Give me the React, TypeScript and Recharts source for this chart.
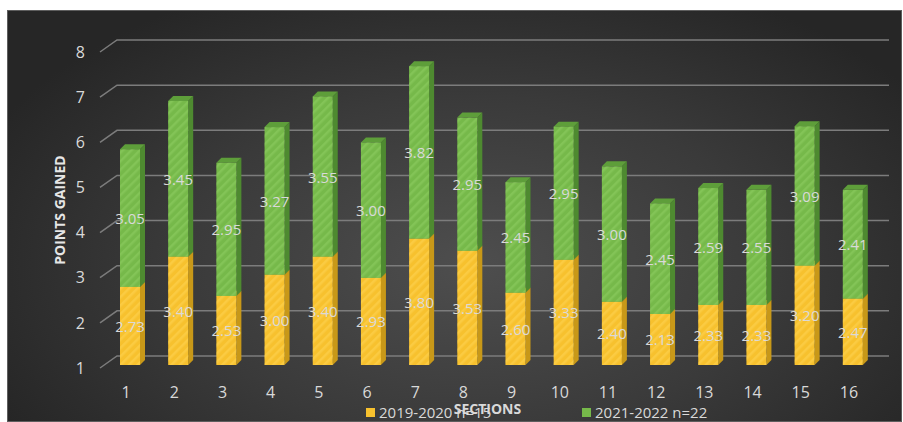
import { BarChart, Bar, XAxis, YAxis, CartesianGrid, Legend } from "recharts"

const sections = ["1", "2", "3", "4", "5", "6", "7", "8", "9", "10", "11", "12", "13", "14", "15", "16"]
const season2019 = [2.73, 3.4, 2.53, 3.0, 3.4, 2.93, 3.8, 3.53, 2.6, 3.33, 2.4, 2.13, 2.33, 2.33, 3.2, 2.47]
const season2021 = [3.05, 3.45, 2.95, 3.27, 3.55, 3.0, 3.82, 2.95, 2.45, 2.95, 3.0, 2.45, 2.59, 2.55, 3.09, 2.41]
const yTicks = [1, 2, 3, 4, 5, 6, 7, 8]
const seriesNames = ["2019-2020 n=15", "2021-2022 n=22"]

const data = sections.map((s, i) => ({ section: s, a: season2019[i], b: season2021[i] }))

const W = 903
const H = 422
const TOP = 52
const XAXIS_H = 54
const PLOT_BOTTOM = H - XAXIS_H
const FONT = "'Open Sans', sans-serif"
const TEXT = "#d9d9d9"

// fake 3D: front face shifted a bit, plus side and top faces
const DX = 4
const DY = -3
const DEPTH = 5

const yellow = { front: "#f7c12e", stripe: "url(#stripeY)", side: "#c89818", top: "#dcaa22" }
const green = { front: "#76b94a", stripe: "url(#stripeG)", side: "#4e8a30", top: "#5e9e3a" }

function bar3D(c: typeof yellow, key: "a" | "b") {
  return (props: any) => {
    const { x, y, width, height, payload } = props
    if (x == null || width == null) return <g />
    const top = y + DY
    const bottom = Math.min(y + height, PLOT_BOTTOM) + DY
    const h = Math.max(bottom - top, 0)
    const fx = x + DX
    const r = fx + width
    return (
      <g>
        <polygon
          points={`${r},${top} ${r + DEPTH},${top - DEPTH} ${r + DEPTH},${bottom - DEPTH} ${r},${bottom}`}
          fill={c.side}
        />
        <polygon
          points={`${fx},${top} ${fx + DEPTH},${top - DEPTH} ${r + DEPTH},${top - DEPTH} ${r},${top}`}
          fill={c.top}
        />
        <rect x={fx} y={top} width={width} height={h} fill={c.front} />
        <rect x={fx} y={top} width={width} height={h} fill={c.stripe} />
        <text
          x={fx + width / 2}
          y={top + h / 2}
          textAnchor="middle"
          dominantBaseline="central"
          fill={TEXT}
          fontSize={15}
          fontFamily={FONT}
        >
          {payload[key].toFixed(2)}
        </text>
      </g>
    )
  }
}

function gridLine(props: any) {
  const { x1, x2, y1 } = props
  return (
    <path
      key={props.key ?? `g-${y1}`}
      d={`M${x1 - 2},${y1} L${x1 + 15},${y1 - 12} L${x2 + 16},${y1 - 12}`}
      stroke="#7c7c7c"
      strokeWidth={1.5}
      fill="none"
    />
  )
}

function renderLegend() {
  const item = (left: number, color: string, label: string) => (
    <div style={{ position: "absolute", left, top: 0, display: "flex", alignItems: "center" }}>
      <span style={{ width: 9, height: 9, background: color, marginRight: 4, display: "inline-block" }} />
      <span style={{ color: TEXT, fontSize: 15, fontFamily: FONT, lineHeight: "18px" }}>{label}</span>
    </div>
  )
  return (
    <div style={{ position: "relative", height: 18, width: W }}>
      {item(366, "#f7c12e", seriesNames[0])}
      {item(582, "#76b94a", seriesNames[1])}
    </div>
  )
}

export default function App() {
  return (
    <div style={{ position: "absolute", left: 0, top: 0, width: W, height: H, background: "#fff", overflow: "hidden" }}>
      <div
        style={{
          position: "absolute",
          left: 7,
          top: 10,
          width: W - 8,
          height: H - 10,
          boxSizing: "border-box",
          border: "1px solid #5e5e5e",
          background: "radial-gradient(ellipse 60% 75% at 52% 62%, #4e4e4e 0%, #3a3a3a 55%, #262626 100%)",
        }}
      />
      <div style={{ position: "absolute", left: 0, top: 0 }}>
        <BarChart width={W} height={H} data={data} margin={{ top: TOP, right: 30, left: 62, bottom: 0 }}>
          <defs>
            <pattern id="stripeY" width="6" height="6" patternUnits="userSpaceOnUse" patternTransform="rotate(45)">
              <rect width="2.5" height="6" fill="#ffd75a" fillOpacity={0.45} />
            </pattern>
            <pattern id="stripeG" width="6" height="6" patternUnits="userSpaceOnUse" patternTransform="rotate(45)">
              <rect width="2.5" height="6" fill="#93d066" fillOpacity={0.45} />
            </pattern>
          </defs>
          <CartesianGrid vertical={false} horizontal={gridLine} />
          <XAxis
            dataKey="section"
            height={XAXIS_H}
            axisLine={false}
            tickLine={false}
            tickMargin={13}
            tick={{ fill: TEXT, fontSize: 16, fontFamily: FONT }}
            label={{
              value: "SECTIONS",
              position: "insideBottom",
              offset: 8,
              fill: TEXT,
              fontSize: 14,
              fontWeight: 700,
              fontFamily: FONT,
            }}
          />
          <YAxis
            width={40}
            domain={[1, 8]}
            ticks={yTicks}
            allowDataOverflow
            axisLine={false}
            tickLine={false}
            tickMargin={11}
            tick={{ fill: TEXT, fontSize: 16, fontFamily: FONT }}
            label={{
              content: ({ viewBox }: any) => {
                const cy = viewBox ? viewBox.y + viewBox.height / 2 : 210
                return (
                  <text
                    x={59}
                    y={cy}
                    transform={`rotate(-90 59 ${cy})`}
                    textAnchor="middle"
                    dominantBaseline="central"
                    fill="#e6e6e6"
                    fontSize={14}
                    fontWeight={700}
                    fontFamily={FONT}
                  >
                    POINTS GAINED
                  </text>
                )
              },
            }}
          />
          <Legend
            layout="horizontal"
            verticalAlign="middle"
            align="center"
            wrapperStyle={{ top: 403, left: 0, width: W }}
            content={renderLegend}
          />
          <Bar dataKey="a" name={seriesNames[0]} stackId="s" barSize={20} shape={bar3D(yellow, "a")} isAnimationActive={false} />
          <Bar dataKey="b" name={seriesNames[1]} stackId="s" barSize={20} shape={bar3D(green, "b")} isAnimationActive={false} />
        </BarChart>
      </div>
    </div>
  )
}
